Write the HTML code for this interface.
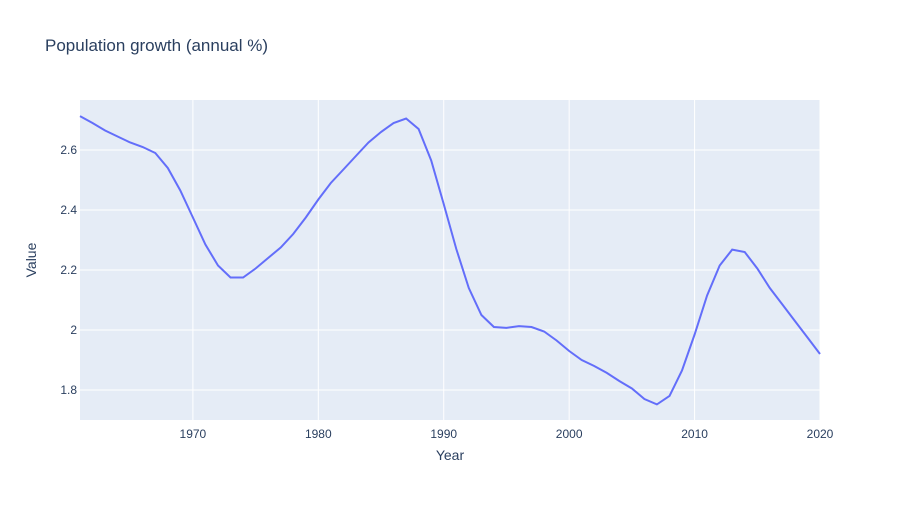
<!DOCTYPE html>
<html><head><meta charset="utf-8"><style>
body{margin:0;background:#fff;}
svg text{font-family:"Liberation Sans",Arial,sans-serif;}
</style></head><body>
<svg id="chart" width="900" height="500">
<rect width="900" height="500" fill="#fff"/>
<text x="45" y="51" font-size="17" fill="#2a3f5f">Population growth (annual %)</text>
<rect x="80" y="100" width="740" height="320" fill="#e5ecf6"/>
<g id="grid"></g>
<g id="ticks"></g>
<path id="line" fill="none" stroke="#636efa" stroke-width="2"/>
<text x="450" y="460" font-size="14" fill="#2a3f5f" text-anchor="middle">Year</text>
<text x="36" y="260" font-size="14" fill="#2a3f5f" text-anchor="middle" transform="rotate(-90 36 260)">Value</text>
</svg>
<script>
const years=[];for(let y=1961;y<=2020;y++)years.push(y);
const values=[2.713,2.69,2.665,2.645,2.625,2.61,2.59,2.54,2.465,2.375,2.285,2.215,2.175,2.175,2.205,2.24,2.275,2.32,2.375,2.435,2.49,2.535,2.58,2.625,2.66,2.69,2.705,2.67,2.565,2.42,2.27,2.14,2.05,2.01,2.007,2.013,2.01,1.995,1.965,1.93,1.9,1.88,1.857,1.83,1.805,1.77,1.752,1.78,1.865,1.985,2.115,2.215,2.268,2.26,2.205,2.14,2.085,2.03,1.975,1.92];
const xTicks=[1970,1980,1990,2000,2010,2020];
const yTicks=[1.8,2,2.2,2.4,2.6];
const yTickLabels=["1.8","2","2.2","2.4","2.6"];
const X0=80,X1=820,Y0=420,Y1=100,xmin=1961,xmax=2020,ymin=1.7,ymax=2.7667;
const sx=v=>X0+(v-xmin)/(xmax-xmin)*(X1-X0);
const sy=v=>Y0-(v-ymin)/(ymax-ymin)*(Y0-Y1);
const NS="http://www.w3.org/2000/svg";
const grid=document.getElementById('grid'),ticks=document.getElementById('ticks');
xTicks.forEach(t=>{
const l=document.createElementNS(NS,'line');
l.setAttribute('x1',sx(t));l.setAttribute('x2',sx(t));l.setAttribute('y1',Y1);l.setAttribute('y2',Y0);
l.setAttribute('stroke','#fff');l.setAttribute('stroke-width','1');


grid.appendChild(l);
const tx=document.createElementNS(NS,'text');
tx.setAttribute('x',sx(t));tx.setAttribute('y',Y0+18);tx.setAttribute('font-size','12');tx.setAttribute('fill','#2a3f5f');tx.setAttribute('text-anchor','middle');
tx.textContent=t;


ticks.appendChild(tx);
});
yTicks.forEach((t,i)=>{
const l=document.createElementNS(NS,'line');
l.setAttribute('x1',X0);l.setAttribute('x2',X1);l.setAttribute('y1',sy(t));l.setAttribute('y2',sy(t));
l.setAttribute('stroke','#fff');l.setAttribute('stroke-width','1');


grid.appendChild(l);
const tx=document.createElementNS(NS,'text');
tx.setAttribute('x',X0-3);tx.setAttribute('y',sy(t)+4);tx.setAttribute('font-size','12');tx.setAttribute('fill','#2a3f5f');tx.setAttribute('text-anchor','end');
tx.textContent=yTickLabels[i];


ticks.appendChild(tx);
});
document.getElementById('line').setAttribute('d',years.map((y,i)=>(i?'L':'M')+sx(y).toFixed(1)+','+sy(values[i]).toFixed(1)).join(''));
</script>
</body></html>
